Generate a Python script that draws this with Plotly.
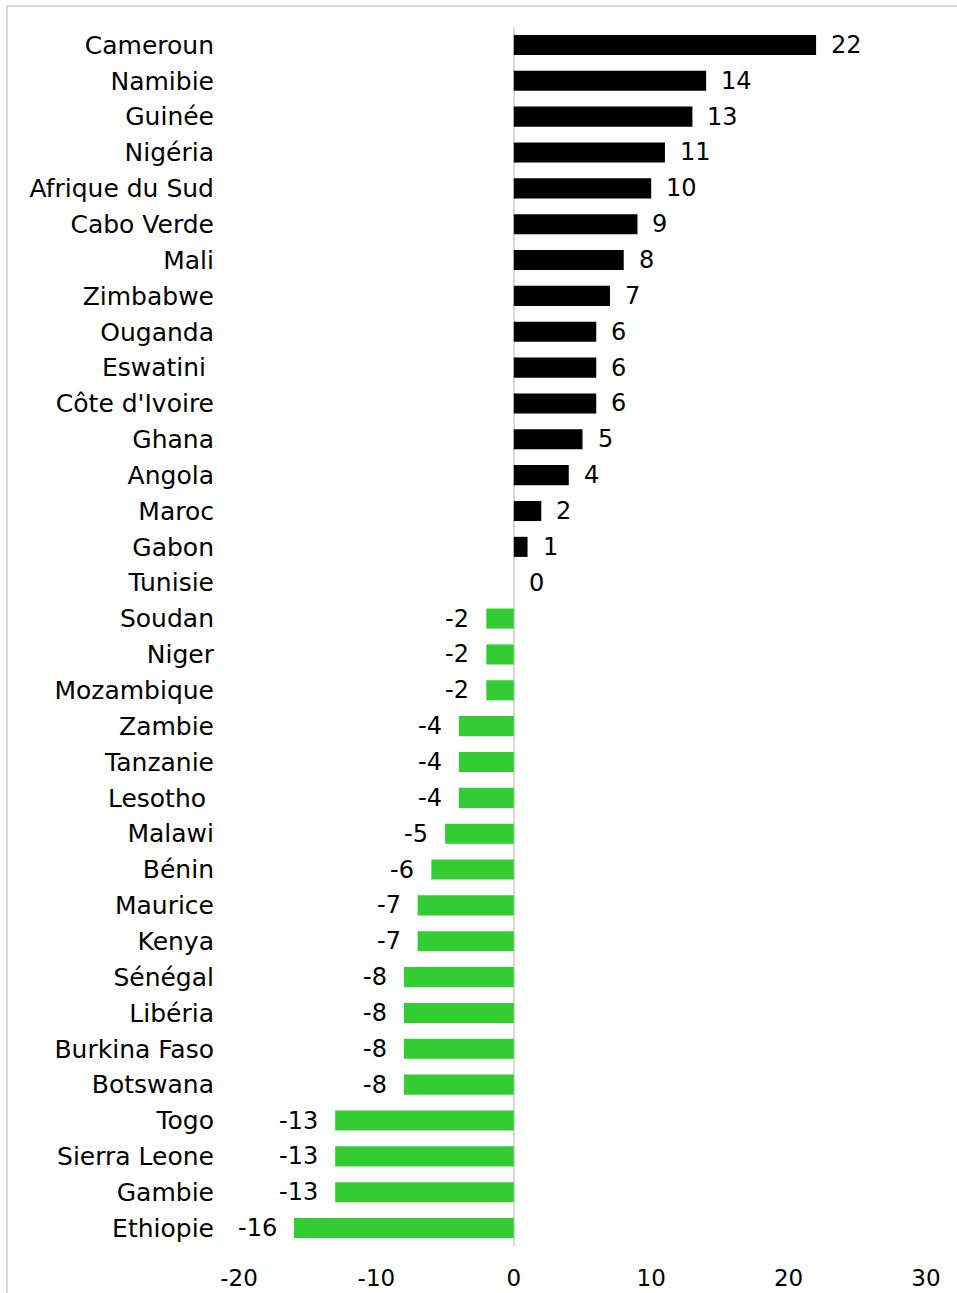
import plotly.graph_objects as go

countries = [
    "Cameroun", "Namibie", "Guinée", "Nigéria", "Afrique du Sud", "Cabo Verde",
    "Mali", "Zimbabwe", "Ouganda", "Eswatini\u00a0", "Côte d'Ivoire", "Ghana",
    "Angola", "Maroc", "Gabon", "Tunisie", "Soudan", "Niger", "Mozambique",
    "Zambie", "Tanzanie", "Lesotho\u00a0", "Malawi", "Bénin", "Maurice", "Kenya",
    "Sénégal", "Libéria", "Burkina Faso", "Botswana", "Togo", "Sierra Leone",
    "Gambie", "Ethiopie",
]
values = [
    22, 14, 13, 11, 10, 9, 8, 7, 6, 6, 6, 5, 4, 2, 1, 0,
    -2, -2, -2, -4, -4, -4, -5, -6, -7, -7, -8, -8, -8, -8,
    -13, -13, -13, -16,
]
x_ticks = [-20, -10, 0, 10, 20, 30]

W, H = 957, 1293
ml, mr, mt, mb = 239, 31, 27, 47
FONT = "DejaVu Sans"

colors = ["#000000" if v >= 0 else "#33CC33" for v in values]

fig = go.Figure(go.Bar(
    x=values, y=countries, orientation="h",
    marker=dict(color=colors, line=dict(width=0)),
    width=0.56, hoverinfo="x+y",
))

# value labels beside each bar
for c, v in zip(countries, values):
    fig.add_annotation(
        x=v, y=c, text=str(v), showarrow=False,
        xanchor="left" if v >= 0 else "right",
        xshift=13 if v >= 0 else -15,
        font=dict(family=FONT, size=24, color="#000000"),
    )

pw = W - ml - mr
ph = H - mt - mb
# light grey outer frame (only top and left edges fall inside the page)
fig.add_shape(
    type="rect", xref="paper", yref="paper",
    x0=(7 - ml) / pw, x1=(W + 20 - ml) / pw,
    y0=-(H + 20 - mt - ph) / ph, y1=(ph + mt - 6) / ph,
    line=dict(color="#d9d9d9", width=2), fillcolor="rgba(0,0,0,0)",
)

fig.update_layout(
    width=W, height=H,
    margin=dict(l=ml, r=mr, t=mt, b=mb),
    plot_bgcolor="white", paper_bgcolor="white",
    showlegend=False,
    font=dict(family=FONT, size=24, color="#000000"),
    xaxis=dict(
        range=[-20, 30], tickvals=x_ticks, ticktext=[str(t) for t in x_ticks],
        showgrid=False, zeroline=True, zerolinecolor="#d9d9d9", zerolinewidth=2,
        showline=False, ticks="", ticklabelstandoff=16, automargin=False,
        tickfont=dict(family=FONT, size=23),
    ),
    yaxis=dict(
        autorange="reversed", showgrid=False, showline=False, ticks="",
        ticklabelstandoff=24, automargin=False,
        tickfont=dict(family=FONT, size=25),
    ),
    bargap=0.44,
)

fig.write_html("out.html", config={"displayModeBar": False},
               post_script="document.body.style.margin='0';")
